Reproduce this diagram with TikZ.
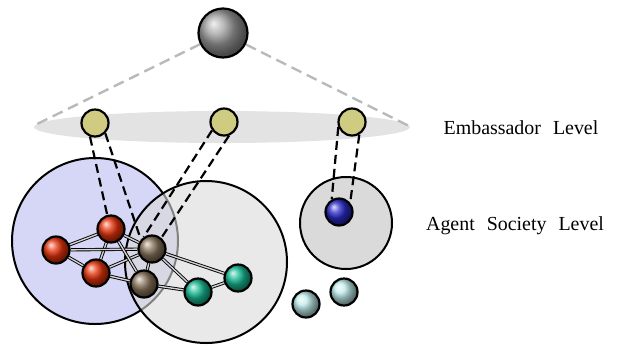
\documentclass[tikz,border=0pt]{standalone}
\usepackage{fontspec}
\setmainfont{Liberation Serif}
\usetikzlibrary{backgrounds}
\pgfdeclarelayer{edges}
\pgfsetlayers{background,edges,main}

\definecolor{embyellow}{RGB}{207,203,128}
\definecolor{socblue}{RGB}{214,214,246}
\definecolor{socgray}{RGB}{218,218,218}
\definecolor{agred}{RGB}{230,50,10}
\definecolor{agbrown}{RGB}{135,115,90}
\definecolor{aggreen}{RGB}{20,185,145}
\definecolor{agblue}{RGB}{40,40,200}
\definecolor{agcyan}{RGB}{190,235,235}

\begin{document}
\begin{tikzpicture}[x=1bp, y=-1bp,
    agent/.style={circle, draw=black, line width=2.2bp, inner sep=0pt, minimum size=27bp},
    society/.style={circle, draw=black, line width=2bp, inner sep=0pt},
    link/.style={draw=black, line width=.9bp, double=gray!35, double distance=1.4bp},
    tube/.style={black, line width=2.2bp, dash pattern=on 9bp off 5bp},
    guide/.style={gray!55, line width=2.4bp, dash pattern=on 11bp off 6bp},
    levellabel/.style={font=\fontsize{20}{24}\selectfont}]
    \useasboundingbox (0,0) rectangle (620,347);

    % levels
    \begin{pgfonlayer}{background}
        \fill[gray!22] (222,127) ellipse [x radius=188bp, y radius=16bp];
        \node (socleft) [society, fill=socblue, minimum size=166bp] at (95,241) {};
        \node (socmid) [society, fill=socgray, fill opacity=.6, minimum size=162bp] at (206,262) {};
        \node (socright) [society, fill=socgray, minimum size=92bp] at (346,223) {};
    \end{pgfonlayer}

    \node (top) [agent, ball color=gray!75, minimum size=49bp] at (223,33) {};
    \coordinate (leftend) at (33,126);
    \coordinate (rightend) at (413,128);

    \node (emb1) [agent, fill=embyellow] at (95,123) {};
    \node (emb2) [agent, fill=embyellow] at (224,122) {};
    \node (emb3) [agent, fill=embyellow] at (352,122) {};

    \node (red1) [agent, ball color=agred] at (56,250) {};
    \node (red2) [agent, ball color=agred] at (111,229) {};
    \node (red3) [agent, ball color=agred] at (96,273) {};
    \node (brown1) [agent, ball color=agbrown] at (152,249) {};
    \node (brown2) [agent, ball color=agbrown] at (144,284) {};
    \node (green1) [agent, ball color=aggreen] at (198,292) {};
    \node (green2) [agent, ball color=aggreen] at (238,278) {};
    \node (blue1) [agent, ball color=agblue] at (339,212) {};
    \node (cyan1) [agent, ball color=agcyan] at (306,304) {};
    \node (cyan2) [agent, ball color=agcyan] at (344,292) {};

    \node (emblabel) [levellabel] at (521,128) {Embassador\hspace{.6em}Level};
    \node (soclabel) [levellabel] at (515,226) {Agent\hspace{.6em}Society\hspace{.6em}Level};

    \begin{pgfonlayer}{edges}
        \draw[guide] (top) -- (leftend);
        \draw[guide] (top) -- (rightend);

        \draw[tube] (emb1.250) -- (red2.105);
        \draw[tube] (emb1.-45) -- (brown1.140);
        \draw[tube] (emb2.215) -- (brown1.125);
        \draw[tube] (emb2.290) -- (brown1.50);
        \draw[tube] (emb3.200) -- (blue1.120);
        \draw[tube] (emb3.-60) -- (blue1.40);

        \foreach \a/\b in {red1/red2, red1/red3, red2/red3, red1/brown1, red2/brown1,
                           red3/brown1, red3/brown2, red2/brown2, brown1/brown2,
                           brown1/green1, brown1/green2, brown2/green1, green1/green2}
            \draw[link] (\a) -- (\b);
    \end{pgfonlayer}
\end{tikzpicture}
\end{document}
